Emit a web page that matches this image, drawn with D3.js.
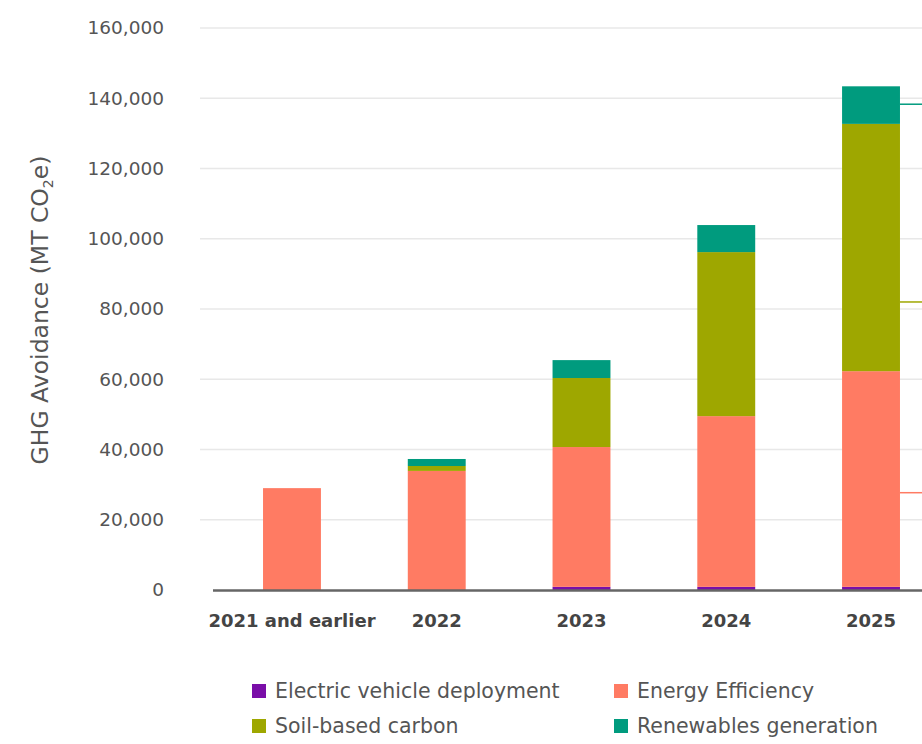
<!DOCTYPE html>
<html>
<head>
  <meta charset="UTF-8">
  <title>GHG avoidance by year</title>
  <style>
    body { margin: 0; background: #fff; }
    svg text { font-family: "DejaVu Sans", sans-serif; }
  </style>
</head>
<body>
<svg id="chart"></svg>

<script src="https://d3js.org/d3.v7.min.js"></script>
<script>

const years = ["2021 and earlier", "2022", "2023", "2024", "2025"];
const seriesNames = ["Electric vehicle deployment", "Energy Efficiency", "Soil-based carbon", "Renewables generation"];
const seriesColors = ["#7a0ea8", "#ff7b63", "#9ea700", "#009b7e"];

const evDeployment = [0, 0, 900, 900, 900];
const energyEfficiency = [29000, 33900, 39800, 48600, 61400];
const soilCarbon = [0, 1400, 19650, 46700, 70400];
const renewables = [0, 2000, 5100, 7700, 10700];

const yTicks = [0, 20000, 40000, 60000, 80000, 100000, 120000, 140000, 160000];

// leader lines peeking in at the right edge (labels cut off)
const leaderValues = [138300, 82000, 27700];
const leaderColors = ["#009b7e", "#9ea700", "#ff7b63"];

let width = 922, height = 744;
let svg = d3.select("#chart").attr("width", width).attr("height", height);

let rows = years.map((y, i) => ({
    year: y,
    "Electric vehicle deployment": evDeployment[i],
    "Energy Efficiency": energyEfficiency[i],
    "Soil-based carbon": soilCarbon[i],
    "Renewables generation": renewables[i]
}));

let stacked = d3.stack().keys(seriesNames)(rows);

let x = d3.scaleBand().domain(years).range([219.6, 943.4]).paddingInner(0.6).paddingOuter(0.3);
let y = d3.scaleLinear().domain([0, 160000]).range([590, 28]);
let color = d3.scaleOrdinal(seriesNames, seriesColors);

// gridlines
svg.append("g")
    .selectAll("line")
    .data(yTicks.slice(1))
    .join("line")
    .attr("x1", 200).attr("x2", width)
    .attr("y1", d => y(d)).attr("y2", d => y(d))
    .attr("stroke", "#e8e8e8")
    .attr("stroke-width", 1.5);

// y tick labels
svg.append("g")
    .selectAll("text")
    .data(yTicks)
    .join("text")
    .attr("x", 164)
    .attr("y", d => y(d))
    .attr("dy", "0.35em")
    .attr("text-anchor", "end")
    .attr("font-size", 18.5)
    .attr("fill", "#555")
    .text(d => d3.format(",")(d));

// y axis title
svg.append("text")
    .attr("transform", "translate(48,310) rotate(-90)")
    .attr("text-anchor", "middle")
    .attr("font-size", 23.5)
    .attr("fill", "#555")
    .html('GHG Avoidance (MT CO<tspan font-size="14" dy="5">2</tspan><tspan dy="-5">e)</tspan>');

// bars
svg.append("g")
    .selectAll("g")
    .data(stacked)
    .join("g")
    .attr("fill", d => color(d.key))
    .selectAll("rect")
    .data(d => d)
    .join("rect")
    .attr("x", d => x(d.data.year))
    .attr("width", x.bandwidth())
    .attr("y", d => y(d[1]))
    .attr("height", d => y(d[0]) - y(d[1]));

// baseline
svg.append("line")
    .attr("x1", 213).attr("x2", width)
    .attr("y1", y(0) + 0.5).attr("y2", y(0) + 0.5)
    .attr("stroke", "#666")
    .attr("stroke-width", 2.5);

// category labels
svg.append("g")
    .selectAll("text")
    .data(years)
    .join("text")
    .attr("x", d => x(d) + x.bandwidth() / 2)
    .attr("y", 627)
    .attr("text-anchor", "middle")
    .attr("font-size", 18)
    .attr("font-weight", "bold")
    .attr("fill", "#444")
    .text(d => d);

// leader lines
svg.append("g")
    .selectAll("line")
    .data(leaderValues)
    .join("line")
    .attr("x1", x("2025") + x.bandwidth()).attr("x2", width)
    .attr("y1", d => y(d)).attr("y2", d => y(d))
    .attr("stroke", (d, i) => leaderColors[i])
    .attr("stroke-width", 1.5);

// legend
let legend = svg.append("g")
    .selectAll("g")
    .data(seriesNames)
    .join("g")
    .attr("transform", (d, i) => "translate(" + (i % 2 == 0 ? 252 : 614) + "," + (i < 2 ? 691 : 726) + ")");

legend.append("rect")
    .attr("x", 0).attr("y", -7)
    .attr("width", 14).attr("height", 14)
    .attr("fill", d => color(d));

legend.append("text")
    .attr("x", 23)
    .attr("dy", "0.35em")
    .attr("font-size", 20.5)
    .attr("fill", "#555")
    .text(d => d);

</script>
</body>
</html>
